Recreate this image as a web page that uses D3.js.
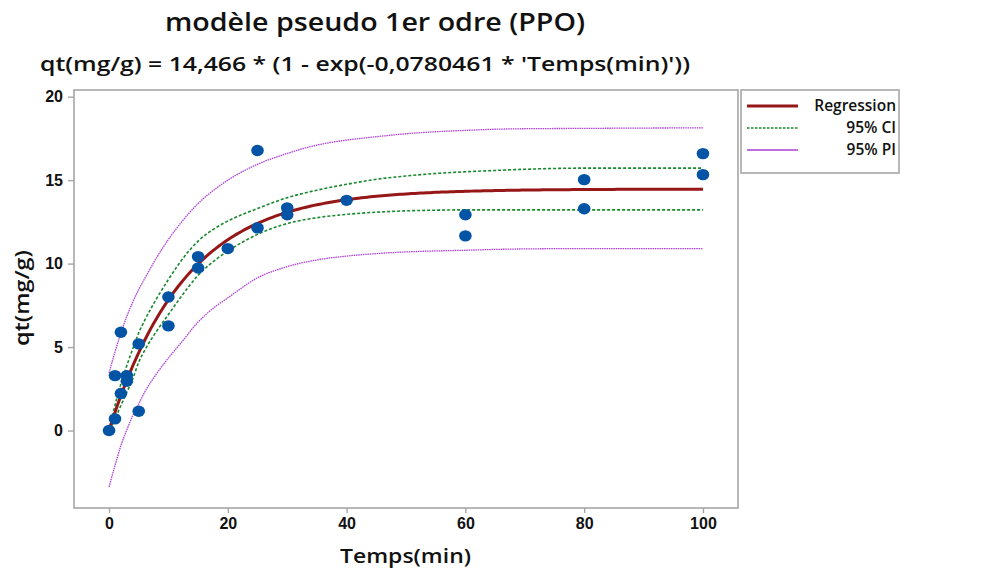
<!DOCTYPE html>
<html>
<head>
<meta charset="utf-8">
<script src="https://cdn.jsdelivr.net/npm/d3@7"></script>
<style>
  html, body { margin: 0; padding: 0; background: #fff; }
  svg { display: block; font-family: "Open Sans", "Noto Sans", sans-serif; }
</style>
</head>
<body>
<svg id="chart" width="983" height="569"></svg>
<script>
// Observed adsorption capacity qt (mg/g) versus contact time (min)
const obsTime = [0, 1, 1, 2, 2, 3, 3, 5, 5, 10, 10, 15, 15, 20, 25, 25, 30, 30, 40, 60, 60, 80, 80, 100, 100];
const obsQt   = [0, 0.70, 3.29, 2.22, 5.89, 3.29, 2.95, 5.19, 1.16, 8.00, 6.27, 10.42, 9.74, 10.90, 16.78, 12.14, 13.34, 12.93, 13.79, 12.93, 11.66, 15.03, 13.29, 16.59, 15.33];

// Fitted pseudo-first-order parameters (qe, k1)
const fitQe = 14.466;
const fitK = 0.0780461;

// Confidence and prediction band limits
const bandTime = [0, 1, 2, 3, 4, 5, 6, 8, 10, 12, 15, 18, 20, 25, 30, 35, 40, 45, 50, 55, 60, 65, 70, 80, 90, 100];
const ciUpper = [0, 1.5, 2.8, 3.9, 4.9, 5.85, 6.6, 7.9, 9.05, 10.1, 11.35, 12.15, 12.55, 13.3, 13.95, 14.4, 14.75, 15.05, 15.25, 15.4, 15.5, 15.58, 15.65, 15.72, 15.72, 15.72];
const ciLower = [0, 0.7, 1.5, 2.3, 3.1, 4.1, 4.8, 5.95, 6.95, 7.95, 9.3, 10.25, 10.75, 11.75, 12.4, 12.75, 12.95, 13.08, 13.16, 13.2, 13.22, 13.22, 13.22, 13.22, 13.22, 13.22];
const piUpper = [3.45, 4.7, 5.85, 6.85, 7.7, 8.45, 9.1, 10.35, 11.45, 12.4, 13.6, 14.5, 15.0, 15.95, 16.6, 17.1, 17.4, 17.6, 17.78, 17.9, 17.98, 18.05, 18.08, 18.1, 18.12, 18.13];
const piLower = [-3.38, -2.1, -0.9, 0.05, 0.9, 1.6, 2.3, 3.4, 4.35, 5.2, 6.5, 7.45, 7.95, 9.15, 9.82, 10.22, 10.45, 10.6, 10.7, 10.76, 10.8, 10.85, 10.88, 10.9, 10.9, 10.9];

const xTicks = [0, 20, 40, 60, 80, 100];
const yTicks = [0, 5, 10, 15, 20];

const titleText = "modèle pseudo 1er odre (PPO)";
const subtitleText = "qt(mg/g) = 14,466 * (1 - exp(-0,0780461 * 'Temps(min)'))";
const xLabel = "Temps(min)";
const yLabel = "qt(mg/g)";
const legendLabels = ["Regression", "95% CI", "95% PI"];

const colors = { reg: "#961717", ci: "#17882c", pi: "#ad3fd6", pt: "#0454a6", frame: "#a6a6a6" };

const svg = d3.select("#chart");
const frame = { left: 74, right: 738, top: 90, bottom: 508 };

const x = d3.scaleLinear().domain([-5.9, 105.9]).range([frame.left, frame.right]);
const y = d3.scaleLinear().domain([-4.64, 20.4]).range([frame.bottom, frame.top]);

// Plot frame
svg.append("rect")
  .attr("x", frame.left).attr("y", frame.top)
  .attr("width", frame.right - frame.left).attr("height", frame.bottom - frame.top)
  .attr("fill", "none").attr("stroke", colors.frame).attr("stroke-width", 1.6);

// Axes
const xAxis = svg.append("g")
  .attr("transform", `translate(0,${frame.bottom})`)
  .call(d3.axisBottom(x).tickValues(xTicks).tickSize(5).tickPadding(5).tickFormat(d3.format("d")));
const yAxis = svg.append("g")
  .attr("transform", `translate(${frame.left},0)`)
  .call(d3.axisLeft(y).tickValues(yTicks).tickSize(6).tickPadding(5).tickFormat(d3.format("d")));
[xAxis, yAxis].forEach(g => {
  g.select(".domain").remove();
  g.selectAll(".tick line").attr("stroke", colors.frame).attr("stroke-width", 1.4);
  g.selectAll(".tick text").attr("fill", "#111").style("font-size", "16px").style("font-weight", 600);
});

const bandLine = vals => d3.line()
  .x((d, i) => x(bandTime[i]))
  .y((d, i) => y(vals[i]))
  .curve(d3.curveMonotoneX)(vals);

// Prediction interval
[piUpper, piLower].forEach(vals => {
  svg.append("path").attr("d", bandLine(vals))
    .attr("fill", "none").attr("stroke", colors.pi)
    .attr("stroke-width", 1.3).attr("stroke-dasharray", "1.5,0.8");
});

// Confidence interval
[ciUpper, ciLower].forEach(vals => {
  svg.append("path").attr("d", bandLine(vals))
    .attr("fill", "none").attr("stroke", colors.ci)
    .attr("stroke-width", 1.6).attr("stroke-dasharray", "3,2");
});

// Fitted curve from the stated equation
const fitTime = d3.range(0, 100.5, 0.5);
const fitLine = d3.line()
  .x(t => x(t))
  .y(t => y(fitQe * (1 - Math.exp(-fitK * t))));
svg.append("path").attr("d", fitLine(fitTime))
  .attr("fill", "none").attr("stroke", colors.reg).attr("stroke-width", 3);

// Observations
svg.append("g").selectAll("ellipse")
  .data(obsTime.map((t, i) => [t, obsQt[i]]))
  .join("ellipse")
  .attr("cx", d => x(d[0])).attr("cy", d => y(d[1]))
  .attr("rx", 6.3).attr("ry", 5.7)
  .attr("fill", colors.pt);

// Titles
svg.append("text").attr("x", 165).attr("y", 31)
  .attr("textLength", 420).attr("lengthAdjust", "spacingAndGlyphs")
  .style("font-size", "26px").style("font-weight", 600).attr("fill", "#111")
  .text(titleText);
svg.append("text").attr("x", 40).attr("y", 71)
  .attr("textLength", 650).attr("lengthAdjust", "spacingAndGlyphs")
  .style("font-size", "20px").style("font-weight", 600).attr("fill", "#111")
  .text(subtitleText);

// Axis titles
svg.append("text").attr("x", 340).attr("y", 563)
  .attr("textLength", 131).attr("lengthAdjust", "spacingAndGlyphs")
  .style("font-size", "20px").style("font-weight", 600).attr("fill", "#111")
  .text(xLabel);
svg.append("text").attr("transform", "translate(29,346) rotate(-90)")
  .attr("textLength", 96).attr("lengthAdjust", "spacingAndGlyphs")
  .style("font-size", "19px").style("font-weight", 600).attr("fill", "#111")
  .text(yLabel);

// Legend
const legend = svg.append("g");
legend.append("rect").attr("x", 741).attr("y", 90).attr("width", 158).attr("height", 83)
  .attr("fill", "#fff").attr("stroke", colors.frame).attr("stroke-width", 1.6);
const legendStyles = [
  { color: colors.reg, width: 3, dash: null },
  { color: colors.ci, width: 1.6, dash: "2.5,1.5" },
  { color: colors.pi, width: 1.6, dash: null }
];
legendLabels.forEach((label, i) => {
  const ly = 106 + i * 22;
  const st = legendStyles[i];
  legend.append("line").attr("x1", 747).attr("x2", 798).attr("y1", ly).attr("y2", ly)
    .attr("stroke", st.color).attr("stroke-width", st.width)
    .attr("stroke-dasharray", st.dash);
  legend.append("text").attr("x", 896).attr("y", ly + 5).attr("text-anchor", "end")
    .style("font-size", "15.5px").style("font-weight", 600).attr("fill", "#111")
    .text(label);
});
</script>
</body>
</html>
